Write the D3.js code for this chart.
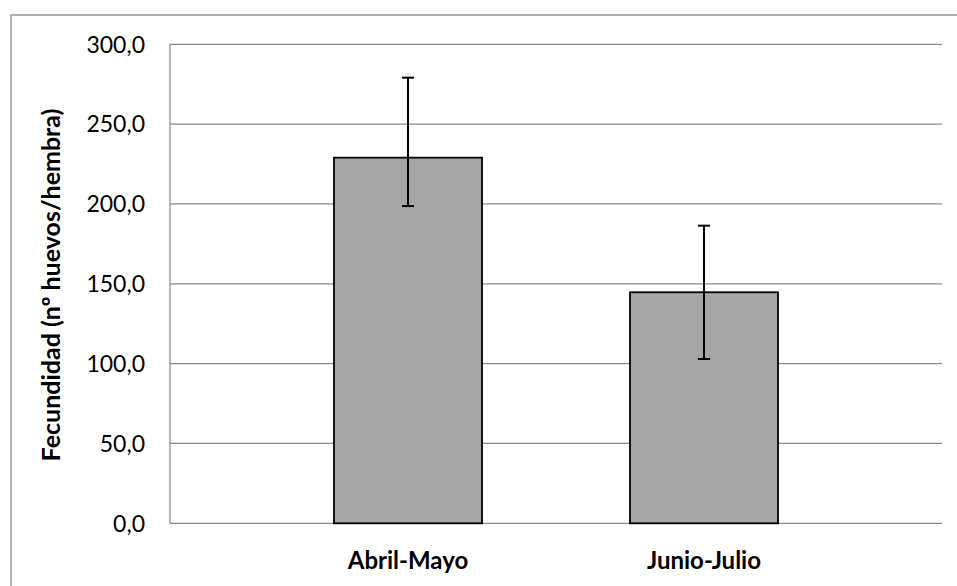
<!DOCTYPE html>
<html><head><meta charset="utf-8">
<script src="https://cdn.jsdelivr.net/npm/d3@7"></script>
<style>body{margin:0;background:#fff}svg{display:block}</style>
</head><body>
<svg id="c" width="957" height="586"></svg>
<script>
const categories = ["Abril-Mayo", "Junio-Julio"];
const values = [229.0, 144.7];
const errHigh = [279.1, 186.4];
const errLow = [198.7, 102.9];
const yTicks = [0, 50, 100, 150, 200, 250, 300];
const yLabel = "Fecundidad (nº huevos/hembra)";

const svg = d3.select("#c");
const font = "Lato, Carlito, Calibri, sans-serif";
const L = 170, R = 942, T = 44.3, B = 523.3;

svg.append("rect").attr("x", 11).attr("y", 15).attr("width", 960).attr("height", 600)
  .attr("fill", "#fff").attr("stroke", "#878787").attr("stroke-width", 1.3);

const y = d3.scaleLinear().domain([0, 300]).range([B, T]);
const x = d3.scaleBand().domain(categories).range([L, R]).paddingInner(0.5).paddingOuter(0.554);

svg.append("g").selectAll("line").data(yTicks).join("line")
  .attr("x1", L).attr("x2", R).attr("y1", d => y(d)).attr("y2", d => y(d))
  .attr("stroke", "#888").attr("stroke-width", 1.2);

svg.append("line").attr("x1", L).attr("x2", L).attr("y1", T).attr("y2", B)
  .attr("stroke", "#888").attr("stroke-width", 1.2);

svg.append("g").selectAll("text").data(yTicks).join("text")
  .attr("x", 145).attr("y", d => y(d)).attr("dy", "0.36em")
  .attr("text-anchor", "end").attr("font-family", font).attr("font-size", 23)
  .attr("fill", "#000").text(d => d3.format(".1f")(d).replace(".", ","));

svg.append("g").selectAll("rect").data(categories).join("rect")
  .attr("x", d => x(d)).attr("width", x.bandwidth())
  .attr("y", (d, i) => y(values[i])).attr("height", (d, i) => B - y(values[i]))
  .attr("fill", "#a6a6a6").attr("stroke", "#000").attr("stroke-width", 1.8);

const eg = svg.append("g").attr("stroke", "#000").attr("stroke-width", 2);
categories.forEach((c, i) => {
  const cx = x(c) + x.bandwidth() / 2;
  eg.append("line").attr("x1", cx).attr("x2", cx).attr("y1", y(errHigh[i])).attr("y2", y(errLow[i]));
  eg.append("line").attr("x1", cx - 6).attr("x2", cx + 6).attr("y1", y(errHigh[i])).attr("y2", y(errHigh[i]));
  eg.append("line").attr("x1", cx - 6).attr("x2", cx + 6).attr("y1", y(errLow[i])).attr("y2", y(errLow[i]));
});

svg.append("g").selectAll("text").data(categories).join("text")
  .attr("x", d => x(d) + x.bandwidth() / 2).attr("y", 569)
  .attr("text-anchor", "middle").attr("font-family", font).attr("font-size", 24)
  .attr("font-weight", "bold").text(d => d);

svg.append("text").attr("transform", "translate(60,285) rotate(-90)")
  .attr("text-anchor", "middle").attr("font-family", font).attr("font-size", 25)
  .attr("font-weight", "bold").text(yLabel);
</script>
</body></html>
